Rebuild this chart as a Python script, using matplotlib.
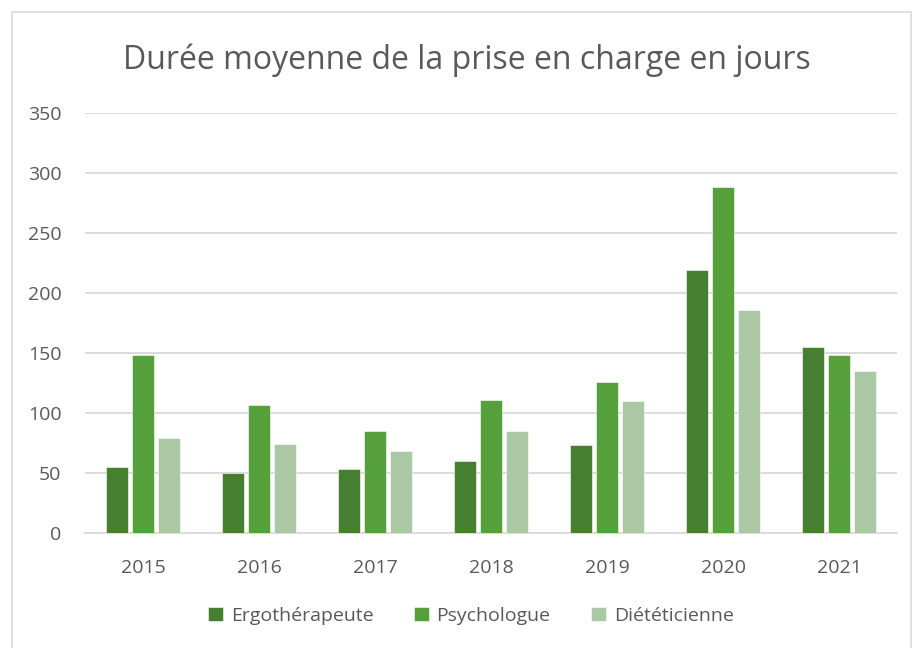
import matplotlib
matplotlib.use("Agg")
import matplotlib.pyplot as plt
import numpy as np
from matplotlib.patches import Rectangle

years = ["2015", "2016", "2017", "2018", "2019", "2020", "2021"]
ergo = [55, 50, 53, 60, 73, 219, 155]
psycho = [148, 107, 85, 111, 126, 288, 148]
diet = [79, 74, 68, 85, 110, 186, 135]
series_names = ["Ergothérapeute", "Psychologue", "Diététicienne"]
colors = ["#457F2F", "#56A03C", "#ABC8A5"]

plt.rcParams['font.family'] = ['Open Sans', 'DejaVu Sans']
text_color = "#595959"

fig = plt.figure(figsize=(9.13, 6.48), dpi=100)
ax = fig.add_axes([85/913, 1-533/648, (897-85)/913, (533-112.7)/648])

x = np.arange(len(years))
step = 0.222
width = 0.19
for i, (vals, name, c) in enumerate(zip([ergo, psycho, diet], series_names, colors)):
    ax.bar(x + (i-1)*step, vals, width=width, color=c, label=name, zorder=3,
           edgecolor="white", linewidth=0.4)

ax.set_xlim(-0.5, len(years)-0.5)
ax.set_ylim(0, 350)
ax.set_yticks(range(0, 351, 50))
ax.set_xticks(x)
ax.set_xticklabels(years)
ax.grid(axis='y', color="#D9D9D9", linewidth=1.3, zorder=0)
for s in ['top', 'right', 'left']:
    ax.spines[s].set_visible(False)
ax.spines['bottom'].set_color("#D9D9D9")
ax.spines['bottom'].set_linewidth(1.3)
ax.tick_params(axis='both', length=0, labelsize=14, colors=text_color)
ax.tick_params(axis='x', pad=19)
ax.tick_params(axis='y', pad=17)

fig.text(467/913, 1-60/648, "Durée moyenne de la prise en charge en jours",
         ha='center', va='center', fontsize=23, color=text_color)

leg = fig.legend(loc='center', bbox_to_anchor=(471/913, 1-616/648), ncol=3,
                 frameon=False, fontsize=14, handlelength=0.75, handleheight=0.75,
                 handletextpad=0.4, columnspacing=2.1, labelcolor=text_color)

fig.patches.append(Rectangle((12/913, -0.01), (911-12)/913, 1-12/648+0.01,
                             transform=fig.transFigure, fill=False,
                             edgecolor="#D9D9D9", linewidth=1.2))

fig.savefig("out.png", dpi=100)
